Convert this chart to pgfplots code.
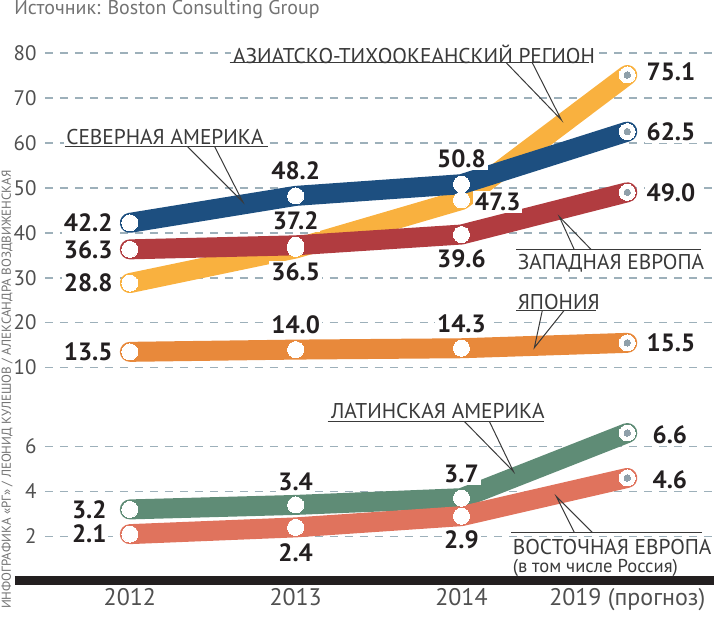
\documentclass[border=0pt]{standalone}
\usepackage{pgfplots}
\pgfplotsset{compat=1.18}
\usepackage{pgfplotstable}
\usepackage{fontspec}
\setmainfont{PT Sans}
\definecolor{cAsia}{HTML}{F9B13F}
\definecolor{cNA}{HTML}{1D4F80}
\definecolor{cWE}{HTML}{B13C40}
\definecolor{cJP}{HTML}{E8893B}
\definecolor{cLA}{HTML}{5F8C76}
\definecolor{cEE}{HTML}{E0735D}
\definecolor{cgrid}{HTML}{9DB0BA}
\definecolor{ctext}{HTML}{231F20}
\definecolor{clabel}{HTML}{3A3A3A}
\definecolor{ctick}{HTML}{505050}
\definecolor{cdot}{HTML}{8FA0AA}

\pgfplotstableread{
x y
0 28.8
1 36.5
2 47.3
3 75.1
}\asia
\pgfplotstableread{
x y
0 42.2
1 48.2
2 50.8
3 62.5
}\namerica
\pgfplotstableread{
x y
0 36.3
1 37.2
2 39.6
3 49.0
}\weurope
\pgfplotstableread{
x y
0 13.5
1 14.0
2 14.3
3 15.5
}\japan
\pgfplotstableread{
x y
0 3.2
1 3.4
2 3.7
3 6.6
}\latam
\pgfplotstableread{
x y
0 2.1
1 2.4
2 2.9
3 4.6
}\eeurope

\pgfplotsset{
  band/.style={line width=10pt, line cap=round, line join=round, no markers},
  dots/.style={only marks, white, mark=*, mark size=4pt, mark options={fill=white, draw=white, line width=0pt}},
  enddot/.style={only marks, cdot, mark=*, mark size=1.6pt, mark options={fill=cdot, draw=cdot, line width=0pt}},
  base/.style={
    scale only axis, width=335pt,
    xmin=-0.5120, xmax=3.5241,
    axis line style={draw=none},
    tick style={draw=none},
    ymajorgrids,
    grid style={cgrid, line width=0.85pt, dash pattern=on 4pt off 3.5pt},
    clip=false,
    /pgf/number format/assume math mode=true,
    yticklabel style={font=\fontsize{10.5}{10.5}\selectfont, text=ctick, inner sep=0pt, xshift=-4pt},
    anchor=south west,
  },
}
\tikzset{
  vl/.style={font=\bfseries\fontsize{12.5}{12.5}\selectfont, text=ctext, fill=white, inner sep=1pt},
  nm/.style={font=\fontsize{10.7}{10.7}\selectfont, text=clabel, fill=white, inner sep=1pt, anchor=west},
  ld/.style={clabel, line width=0.5pt},
}

\begin{document}
\begin{tikzpicture}
% ---------------- upper panel ----------------
\begin{axis}[base, at={(22.5pt,-184pt)}, height=157.5pt,
  ymin=10, ymax=80, ytick={10,20,...,80}, xtick=\empty]
  \addplot[band, cJP] table {\japan};
  \addplot[band, cAsia] table {\asia};
  \addplot[band, cWE] table {\weurope};
  \addplot[band, cNA] table {\namerica};
  \addplot[dots] table {\japan};
  \addplot[dots] table {\asia};
  \addplot[dots] table {\weurope};
  \addplot[dots] table {\namerica};
  \addplot[enddot] coordinates {(3,75.1) (3,62.5) (3,49.0) (3,15.5)};
  % value labels
  \node[vl, anchor=east, xshift=-7.5pt] at (axis cs:0,42.2) {42.2};
  \node[vl, anchor=east, xshift=-7.5pt] at (axis cs:0,36.3) {36.3};
  \node[vl, anchor=east, xshift=-7.5pt] at (axis cs:0,28.8) {28.8};
  \node[vl, anchor=east, xshift=-7.5pt] at (axis cs:0,13.5) {13.5};
  \node[vl, yshift=12.5pt] at (axis cs:1,48.2) {48.2};
  \node[vl, yshift=12.3pt] at (axis cs:1,37.2) {37.2};
  \node[vl, yshift=-11.6pt] at (axis cs:1,36.5) {36.5};
  \node[vl, yshift=12.5pt] at (axis cs:1,14.0) {14.0};
  \node[vl, yshift=12.7pt] at (axis cs:2,50.8) {50.8};
  \node[vl, anchor=west, xshift=5.5pt, yshift=-1pt] at (axis cs:2,47.3) {47.3};
  \node[vl, yshift=-12pt] at (axis cs:2,39.6) {39.6};
  \node[vl, yshift=12pt] at (axis cs:2,14.3) {14.3};
  \node[vl, anchor=west, xshift=8.5pt, yshift=1.5pt] at (axis cs:3,75.1) {75.1};
  \node[vl, anchor=west, xshift=8.5pt] at (axis cs:3,62.5) {62.5};
  \node[vl, anchor=west, xshift=8.5pt] at (axis cs:3,49.0) {49.0};
  \node[vl, anchor=west, xshift=8.5pt] at (axis cs:3,15.5) {15.5};
\end{axis}
% ---------------- lower panel ----------------
\begin{axis}[base, at={(22.5pt,-268.5pt)}, height=45pt,
  ymin=2, ymax=6, ytick={2,4,6},
  xtick={0,1,2,3}, xticklabels={2012,2013,2014,2019 (прогноз)},
  xticklabel style={anchor=base, yshift=-34.5pt, font=\fontsize{12}{12}\selectfont, text=ctick}]
  \addplot[band, cLA] table {\latam};
  \addplot[band, cEE] table {\eeurope};
  \addplot[dots] table {\latam};
  \addplot[dots] table {\eeurope};
  \addplot[enddot] coordinates {(3,6.6) (3,4.6)};
  \node[vl, anchor=east, xshift=-10.5pt] at (axis cs:0,3.2) {3.2};
  \node[vl, anchor=east, xshift=-10.5pt] at (axis cs:0,2.1) {2.1};
  \node[vl, yshift=11.7pt] at (axis cs:1,3.4) {3.4};
  \node[vl, yshift=-12.5pt] at (axis cs:1,2.4) {2.4};
  \node[vl, yshift=11.9pt] at (axis cs:2,3.7) {3.7};
  \node[vl, yshift=-11.6pt] at (axis cs:2,2.9) {2.9};
  \node[vl, anchor=west, xshift=11.5pt, yshift=-0.75pt] at (axis cs:3,6.6) {6.6};
  \node[vl, anchor=west, xshift=11.5pt, yshift=-0.75pt] at (axis cs:3,4.6) {4.6};
\end{axis}
% ---------------- annotations in pixel coordinates ----------------
\begin{scope}[x=0.5pt, y=-0.5pt]
  \useasboundingbox (0,0) rectangle (715,611);
  \draw[line width=4.5pt, ctext] (15,581.5) -- (715,581.5);
  % Asia-Pacific
  \node[nm] at (231,54.5) {АЗИАТСКО-ТИХООКЕАНСКИЙ РЕГИОН};
  \draw[ld] (230,63) -- (590,63);
  \draw[ld] (507,63) -- (562,120) -- (533,63);
  % North America
  \node[nm] at (64,137) {СЕВЕРНАЯ АМЕРИКА};
  \draw[ld] (65,147) -- (268,147);
  \draw[ld] (188,147) -- (243,202) -- (215,147);
  % Western Europe
  \node[nm] at (516,263.5) {ЗАПАДНАЯ ЕВРОПА};
  \draw[ld] (517,250) -- (702,250);
  \draw[ld] (575,250) -- (560,217) -- (592,250);
  % Japan
  \node[nm] at (516,302) {ЯПОНИЯ};
  \draw[ld] (517,310.5) -- (597,310.5);
  \draw[ld] (543,310.5) -- (535,348) -- (565,310.5);
  % Latin America
  \node[nm] at (329,411.5) {ЛАТИНСКАЯ АМЕРИКА};
  \draw[ld] (328,422) -- (545,422);
  \draw[ld] (465,422) -- (514,472) -- (490,422);
  % Eastern Europe
  \node[nm, anchor=base west, inner sep=0pt] at (513,555) {ВОСТОЧНАЯ ЕВРОПА};
  \node[nm, anchor=base west, inner sep=0pt, fill=none, font=\fontsize{9.3}{9.3}\selectfont] at (513,573) {(в том числе Россия)};
  \draw[ld] (512,533) -- (703,533);
  \draw[ld] (575,533) -- (557,497) -- (593,533);
  % source and credits
  \node[anchor=base west, inner sep=0pt, font=\fontsize{10}{10}\selectfont, text=ctick!80] at (14,15) {Источник: Boston Consulting Group};
  \node[rotate=90, anchor=west, inner sep=0pt, font=\fontsize{6.5}{6.5}\selectfont, text=ctick!80] at (7,610) {ИНФОГРАФИКА «РГ» / ЛЕОНИД КУЛЕШОВ / АЛЕКСАНДРА ВОЗДВИЖЕНСКАЯ};
\end{scope}
\end{tikzpicture}
\end{document}
